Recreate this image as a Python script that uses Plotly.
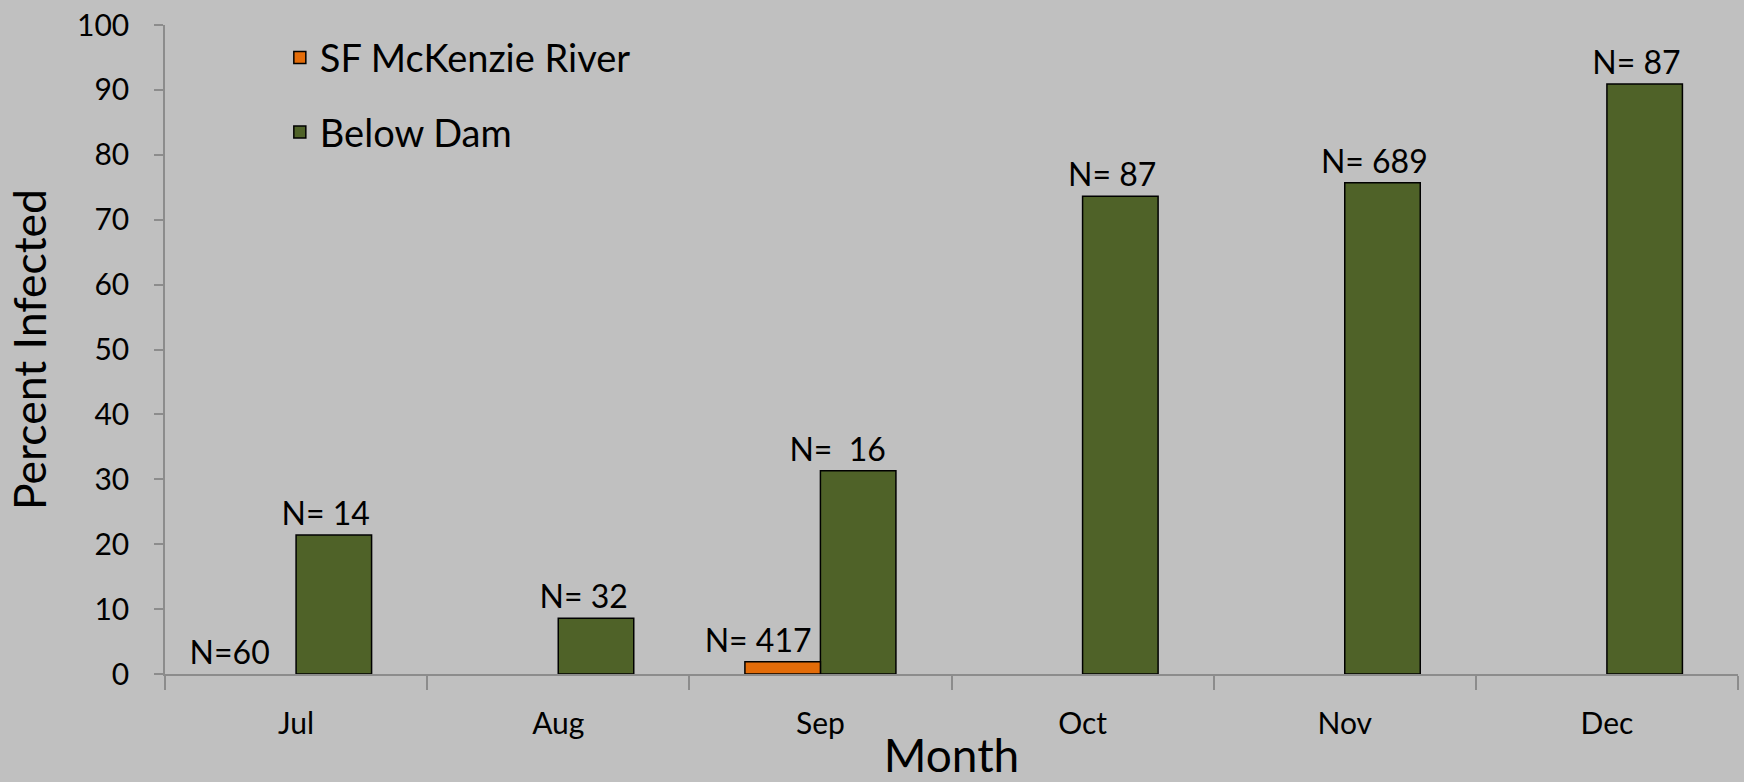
import plotly.graph_objects as go

months = ["Jul", "Aug", "Sep", "Oct", "Nov", "Dec"]
sf_months = ["Sep", "Jul"]
sf_mckenzie = [1.9, 0]
sf_labels = ["N= 417", "N=60"]
below_dam = [21.4, 8.6, 31.3, 73.6, 75.7, 90.9]
below_labels = ["N= 14", "N= 32", "N=  16", "N= 87", "N= 689", "N= 87"]

FONT = "Lato, sans-serif"
NB = "\u00a0"
# labels sit a little left of their bars in the original; pad with non-breaking spaces
sf_pad = [6, 7]
below_pad = [2, 3, 5, 2, 2, 2]
sf_text = [t.replace(" ", NB) + NB * p for t, p in zip(sf_labels, sf_pad)]
below_text = [t.replace(" ", NB) + NB * p for t, p in zip(below_labels, below_pad)]

BAR_W = 0.288

fig = go.Figure()
fig.add_trace(go.Bar(
    x=months, y=below_dam, name="Below Dam",
    offset=0, width=BAR_W,
    marker=dict(color="#4F6228", line=dict(color="black", width=1.5)),
    text=below_text, textposition="outside", cliponaxis=False, constraintext="none",
    textfont=dict(size=32, color="black", family=FONT),
    legendgroup="b", legendrank=2,
))
fig.add_trace(go.Bar(
    x=sf_months, y=sf_mckenzie, name="SF McKenzie River",
    offset=-BAR_W, width=BAR_W,
    marker=dict(color="#E36C09",
                line=dict(color="black", width=[0 if v == 0 else 1.5 for v in sf_mckenzie])),
    text=sf_text, textposition="outside", cliponaxis=False, constraintext="none",
    textfont=dict(size=32, color="black", family=FONT),
    legendgroup="a", legendrank=1,
))

fig.update_layout(
    width=1744, height=782,
    paper_bgcolor="#C0C0C0", plot_bgcolor="#C0C0C0",
    barmode="overlay",
    margin=dict(l=165, r=6, t=25, b=108, autoexpand=False),
    font=dict(family=FONT, color="black"),
    showlegend=True,
    legend=dict(x=0.073, y=0.998, xanchor="left", yanchor="top",
                bgcolor="rgba(0,0,0,0)", font=dict(size=38, family=FONT),
                traceorder="grouped", tracegroupgap=22, itemwidth=30),
)
fig.update_xaxes(
    type="category", categoryorder="array", categoryarray=months,
    showgrid=False, showline=True, linecolor="#8C8C8C", linewidth=1.5,
    ticks="outside", tickson="boundaries", ticklen=14, tickcolor="#8C8C8C", tickwidth=1.5,
    tickfont=dict(size=30, family=FONT), ticklabelstandoff=22, automargin=False,
    title=dict(text="Month", font=dict(size=46, family=FONT), standoff=26),
)
fig.update_yaxes(
    range=[0, 100], dtick=10, showgrid=False, showline=True, linecolor="#8C8C8C", linewidth=1.5,
    ticks="outside", ticklen=9, tickcolor="#8C8C8C", tickwidth=1.5,
    tickfont=dict(size=30, family=FONT), ticklabelstandoff=19, automargin=False,
    zeroline=False,
    title=dict(text="Percent Infected", font=dict(size=44.5, family=FONT), standoff=16),
)

fig.write_html("out.html", config={"displayModeBar": False},
               post_script="document.body.style.margin='0';")
